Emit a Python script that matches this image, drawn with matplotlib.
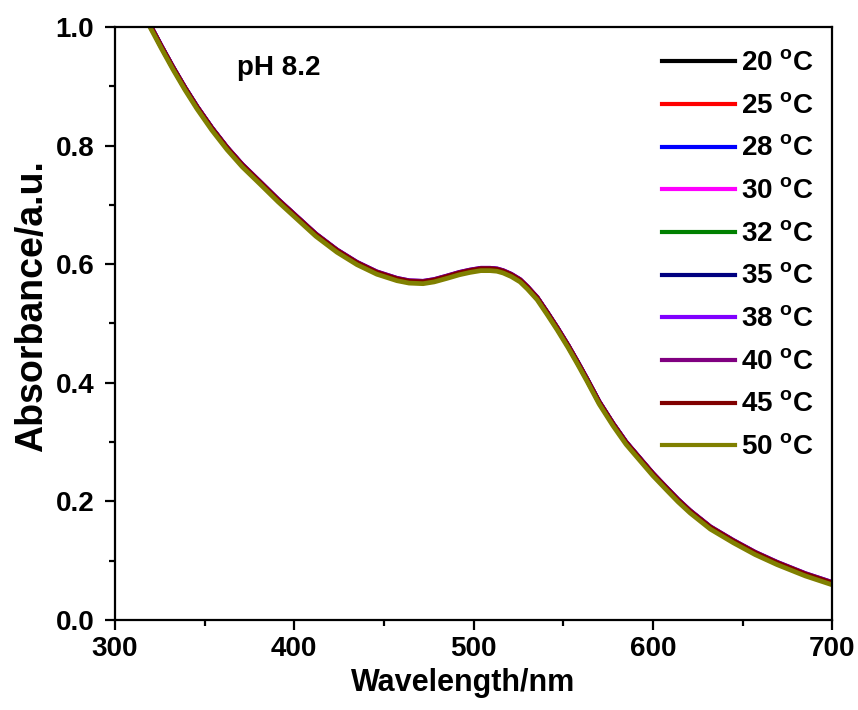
import matplotlib
matplotlib.use("Agg")
import matplotlib.pyplot as plt
from matplotlib.ticker import MultipleLocator, FormatStrFormatter

plt.rcParams['font.family'] = ['Liberation Sans', 'DejaVu Sans']
plt.rcParams['font.weight'] = 'bold'
plt.rcParams['mathtext.fontset'] = 'custom'
plt.rcParams['mathtext.rm'] = 'Liberation Sans:bold'
plt.rcParams['mathtext.bf'] = 'Liberation Sans:bold'

# spectrum (50 C curve, the one on top)
wavelength = [312, 319.5, 326, 332.4, 339, 345.7, 354, 362.5, 371, 380.9, 391, 401.5,
              412, 423.8, 435, 446, 457.3, 464, 471.8, 478, 485.2, 492, 498, 504,
              509.2, 513, 516.5, 521, 525.9, 530, 535.4, 541, 546.6, 552.7, 558,
              563.3, 570, 577.8, 585, 592.9, 600, 607.9, 614, 620.8, 632, 644.8,
              657, 669.3, 685, 700]
absorb = [1.04, 1.0, 0.963, 0.928, 0.894, 0.862, 0.826, 0.793, 0.764, 0.735, 0.705, 0.676,
          0.647, 0.620, 0.599, 0.583, 0.572, 0.568, 0.567, 0.570, 0.576, 0.582, 0.586, 0.589,
          0.589, 0.588, 0.585, 0.579, 0.570, 0.558, 0.540, 0.515, 0.489, 0.459, 0.431,
          0.402, 0.364, 0.327, 0.296, 0.268, 0.243, 0.218, 0.199, 0.180, 0.153, 0.130,
          0.110, 0.093, 0.074, 0.059]

temps = [20, 25, 28, 30, 32, 35, 38, 40, 45, 50]
colors = ['black', '#FF0000', '#0000FF', '#FF00FF', '#008000', '#000080',
          '#8000FF', '#800080', '#800000', '#808000']
# small offsets of the lower-temperature curves (they sit just above the 50 C one)
offsets = [0.003, 0.003, 0.003, 0.003, 0.003, 0.003, 0.004, 0.004, 0.003, 0.0]

fig = plt.figure(figsize=(8.58, 7.10), dpi=100)
ax = fig.add_axes([0.134, 0.127, 0.836, 0.835])

for t, c, off in zip(temps, colors, offsets):
    ax.plot(wavelength, [a + off for a in absorb], color=c, lw=3.4,
            label=f'{t} $^\\mathrm{{o}}$C')

ax.set_xlim(300, 700)
ax.set_ylim(0, 1.0)
ax.xaxis.set_major_locator(MultipleLocator(100))
ax.xaxis.set_minor_locator(MultipleLocator(50))
ax.yaxis.set_major_locator(MultipleLocator(0.2))
ax.yaxis.set_minor_locator(MultipleLocator(0.1))
ax.yaxis.set_major_formatter(FormatStrFormatter('%.1f'))
ax.tick_params(which='both', direction='out', width=1.6, labelsize=20,
               top=False, right=False)
ax.tick_params(which='major', length=7, pad=5)
ax.tick_params(axis='y', which='major', pad=8)
ax.tick_params(which='minor', length=4)
for s in ax.spines.values():
    s.set_linewidth(1.6)
for lab in ax.get_xticklabels() + ax.get_yticklabels():
    lab.set_fontweight('bold')

ax.set_xlabel('Wavelength/nm', fontsize=22, fontweight='bold', labelpad=4, x=0.485)
ax.set_ylabel('Absorbance/a.u.', fontsize=27, fontweight='bold', labelpad=4, y=0.53)

ax.text(0.170, 0.931, 'pH 8.2', transform=ax.transAxes,
        fontsize=20, fontweight='bold', va='center', ha='left')

leg = ax.legend(loc='upper right', bbox_to_anchor=(1.0, 0.99), frameon=False,
                handlelength=2.6, handletextpad=0.25, labelspacing=0.6,
                borderaxespad=0.25, prop={'weight': 'bold', 'size': 20})
for line in leg.get_lines():
    line.set_linewidth(3)

fig.savefig('out.png', dpi=100)
